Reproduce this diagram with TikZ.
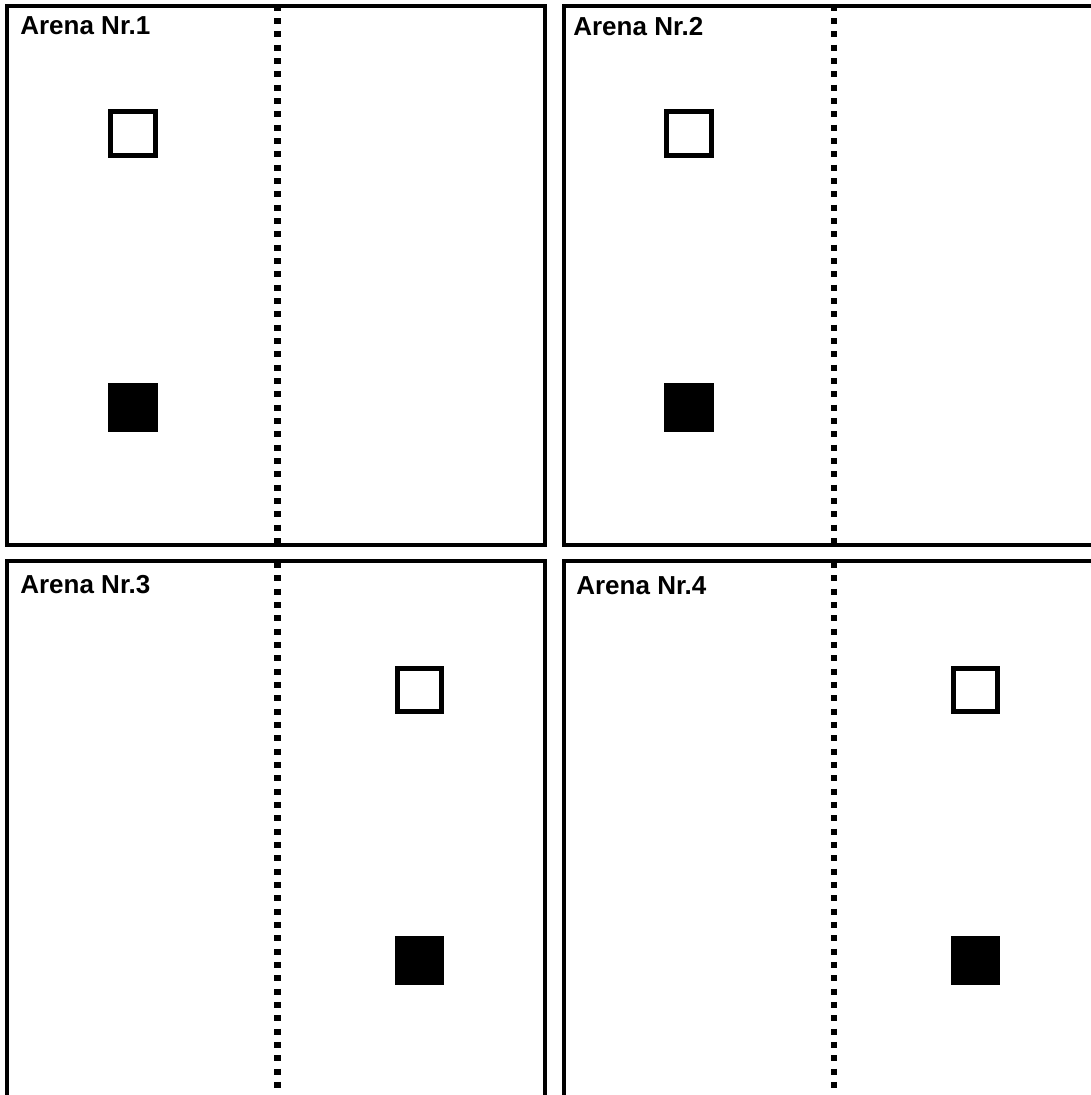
\documentclass[tikz,border=0pt]{standalone}
\usepackage{fontspec}
\setmainfont{Liberation Sans}
\begin{document}
\begin{tikzpicture}[x=0.02cm, y=-0.02cm,
    every node/.style={font=\fontsize{14.8}{17}\selectfont\bfseries, inner sep=0pt, anchor=base west},
    wall/.style={line width=0.08cm},
    divider/.style={line width=0.13cm, dash pattern=on 0.12cm off 0.1467cm},
    cue/.style={line width=0.1cm}]
			\useasboundingbox (0,0) rectangle (1091,1095);
			\clip (0,0) rectangle (1091,1095);
			
			% walls of the four arenas
			\draw[wall] (7,6.5) rectangle (545,545);
			\draw[wall] (564,6.5) rectangle (1110,545);
			\draw[wall] (7,560.5) rectangle (545,1110);
			\draw[wall] (564,560.5) rectangle (1110,1110);
			
			% dividing lines
			\draw[divider] (277.5,4.7) -- (277.5,545);
			\draw[divider] (834,4.7) -- (834,545);
			\draw[divider] (277.5,562) -- (277.5,1095);
			\draw[divider] (834,562) -- (834,1095);
			
			% cues, left side
			\draw[cue] (110.5,111.5) rectangle (155.5,155.5);
			\fill (108,383) rectangle (158,432);
			\draw[cue] (666.5,111.5) rectangle (711.5,155.5);
			\fill (664,383) rectangle (714,432);
			
			% cues, right side
			\draw[cue] (397.5,668.5) rectangle (441.5,711.5);
			\fill (395,936) rectangle (444,985);
			\draw[cue] (953.5,668.5) rectangle (997.5,711.5);
			\fill (951,936) rectangle (1000,985);
			
			\node (arena1) at (20,35) {Arena Nr.1};
			\node (arena2) at (573,36) {Arena Nr.2};
			\node (arena3) at (20,593) {Arena Nr.3};
			\node (arena4) at (576,594) {Arena Nr.4};
		\end{tikzpicture}
\end{document}
